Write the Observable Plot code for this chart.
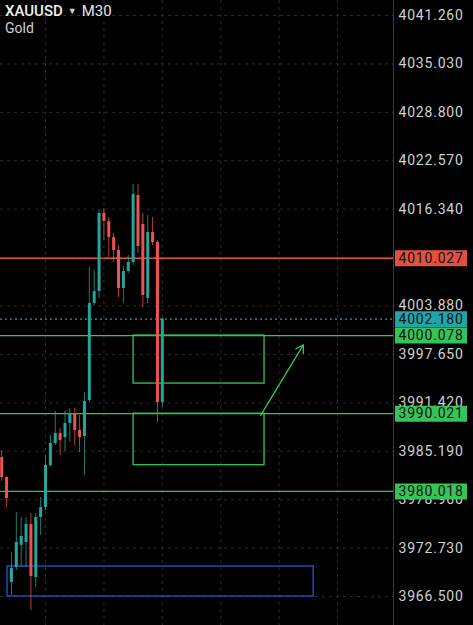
<!DOCTYPE html>
<html>
<head>
<meta charset="utf-8">
<script src="https://cdn.jsdelivr.net/npm/d3@7"></script>
<script src="https://cdn.jsdelivr.net/npm/@observablehq/plot@0.6"></script>
<style>
  html, body { margin: 0; padding: 0; background: #000; }
  #wrap { position: relative; width: 473px; height: 625px; overflow: hidden; background: #000; }
  #title { position: absolute; left: 5px; top: 2px; font-family: Roboto, "Liberation Sans", sans-serif; color: #f0f0f0; pointer-events: none; }
  #title .l1 { font-size: 15px; line-height: 18px; white-space: nowrap; }
  #title .sym { font-weight: 500; }
  #title .tri { font-size: 9px; color: #cfcfcf; margin: 0 5px 0 5px; vertical-align: 2px; }
  #title .tf { font-weight: 400; color: #e6e6e6; }
  #title .l2 { font-size: 14px; line-height: 17px; color: #cfcfcf; }
</style>
</head>
<body>
<div id="wrap">
  <div id="chart"></div>
  <div id="title"><div class="l1"><span class="sym">XAUUSD</span><span class="tri">▼</span><span class="tf">M30</span></div><div class="l2">Gold</div></div>
</div>
<script>
// ---- data ----
const opens  = [3984.39, 3981.82, 3968.31, 3970.24, 3973.07, 3973.45, 3975.77, 3968.95, 3976.67, 3977.96, 3983.36, 3986.19, 3987.48, 3986.96, 3988.76, 3990.05, 3987.86, 3987.09, 3991.72, 4004.20, 4005.75, 4015.78, 4014.75, 4012.70, 4011.02, 4006.13, 4008.32, 4009.48, 4018.10, 4014.37, 4004.85, 4013.34, 4012.05, 3991.46];
const highs  = [3985.29, 3981.90, 3972.17, 3977.31, 3976.67, 3976.67, 3977.18, 3977.18, 3979.24, 3984.65, 3987.22, 3990.31, 3988.12, 3990.31, 3990.69, 3990.69, 3989.79, 3992.75, 4008.84, 4008.45, 4016.17, 4016.43, 4015.27, 4013.21, 4011.67, 4008.96, 4010.38, 4019.52, 4019.52, 4015.78, 4015.53, 4015.27, 4012.30, 4002.30];
const lows   = [3981.30, 3977.96, 3966.63, 3969.85, 3970.24, 3970.24, 3964.70, 3967.66, 3974.35, 3977.57, 3983.10, 3985.93, 3984.65, 3985.16, 3986.32, 3985.93, 3985.03, 3982.07, 3991.46, 4003.95, 4004.85, 4012.31, 4010.12, 4009.48, 4004.98, 4004.20, 4008.06, 4009.10, 4010.64, 4003.69, 4004.20, 4011.67, 3988.89, 3990.82];
const closes = [3981.82, 3979.11, 3970.11, 3973.45, 3974.22, 3975.77, 3969.08, 3976.67, 3977.96, 3983.36, 3986.19, 3987.48, 3986.58, 3988.76, 3990.05, 3987.86, 3986.96, 3991.59, 4004.20, 4005.75, 4015.78, 4014.75, 4012.70, 4011.02, 4006.13, 4008.32, 4009.48, 4018.23, 4011.54, 4005.23, 4013.34, 4012.05, 3991.46, 4002.18];

const priceTicks = [4041.26, 4035.03, 4028.80, 4022.57, 4016.34, 4010.11, 4003.88, 3997.65, 3991.42, 3985.19, 3978.96, 3972.73, 3966.50];
const timeTicks = [9, 21, 33, 45, 57, 69];

const levelPrices = [4010.027, 4000.078, 3990.021, 3980.018];
const levelKinds  = ["resistance", "support", "support", "support"];
const currentPrice = 4002.180;

// zones: [start bar, end bar, top price, bottom price]
const zoneStart  = [27.1, 27.1, 1.2];
const zoneEnd    = [54.0, 54.0, 64.1];
const zoneTop    = [4000.078, 3990.021, 3970.36];
const zoneBottom = [3993.90, 3983.40, 3966.50];
const zoneKinds  = ["support", "support", "demand"];

// arrow: from (bar, price) to (bar, price)
const arrowFrom = [53.2, 3989.8];
const arrowTo   = [62.0, 3998.9];

// ---- styling ----
const TEAL = "#26a69a", RED = "#ef5350";
const GREEN = "#36c45a", LRED = "#e4503f", CYAN = "#1fa5a8", BLUE = "#1f57d8";
const GRID = "#2b2b2b";
const kindColor = {resistance: LRED, support: GREEN, demand: BLUE};

const candles = opens.map((o, i) => ({i, open: o, high: highs[i], low: lows[i], close: closes[i]}));
const candleColor = d => d.close >= d.open ? TEAL : RED;
const levels = levelPrices.map((p, i) => ({price: p, color: kindColor[levelKinds[i]]}));
const zones = zoneStart.map((s, i) => ({x1: s, x2: zoneEnd[i], y1: zoneTop[i], y2: zoneBottom[i], color: kindColor[zoneKinds[i]]}));
const badges = [
  ...levels.map(l => ({price: l.price, bg: l.color})),
  {price: currentPrice, bg: CYAN}
];
const fmt = d => d.toFixed(3);

const W = 473, H = 625, MR = 80;
const xDomain = [-0.25, 80.5];
const yDomain = [3962.77, 4043.19];
const plotRight = W - MR; // 393

const chart = Plot.plot({
  width: W, height: H,
  marginLeft: 0, marginRight: MR, marginTop: 0, marginBottom: 0,
  style: {background: "#000", color: "#d2d2d2", fontFamily: "Roboto, 'Liberation Sans', sans-serif", fontSize: "14px", letterSpacing: "0.8px"},
  x: {domain: xDomain, axis: null},
  y: {domain: yDomain, axis: null},
  marks: [
    Plot.ruleY(priceTicks, {stroke: GRID, strokeDasharray: "3,4"}),
    Plot.ruleX(timeTicks, {stroke: GRID, strokeDasharray: "3,4"}),
    Plot.rect(zones, {x1: "x1", x2: "x2", y1: "y1", y2: "y2", fill: "none", stroke: "color", strokeWidth: 1.3}),
    Plot.ruleY(levels, {y: "price", stroke: "color", strokeWidth: 1.3}),
    Plot.ruleY([currentPrice], {stroke: CYAN, strokeDasharray: "2,3", strokeWidth: 1.2}),
    Plot.ruleX(candles, {x: "i", y1: "low", y2: "high", stroke: candleColor, strokeWidth: 1, strokeOpacity: 0.75}),
    Plot.ruleX(candles, {x: "i", y1: "open", y2: "close", stroke: candleColor, strokeWidth: 3}),
    Plot.arrow([0], {x1: () => arrowFrom[0], y1: () => arrowFrom[1], x2: () => arrowTo[0], y2: () => arrowTo[1], stroke: GREEN, strokeWidth: 1.3, headLength: 10}),
    Plot.ruleX([xDomain[1]], {stroke: "#3a3a3a", strokeWidth: 1}),
    Plot.axisY(priceTicks, {anchor: "right", tickSize: 0, tickPadding: 5, tickFormat: fmt, fill: "#d2d2d2", fontSize: 14}),
    Plot.ruleY(badges, {y: "price", stroke: "bg", strokeWidth: 16, insetLeft: plotRight + 2, insetRight: -74}),
    Plot.text(badges, {y: "price", text: d => fmt(d.price), frameAnchor: "right", dx: 5, textAnchor: "start", fill: "#111", fontSize: 14})
  ]
});
document.getElementById("chart").appendChild(chart);
</script>
</body>
</html>
